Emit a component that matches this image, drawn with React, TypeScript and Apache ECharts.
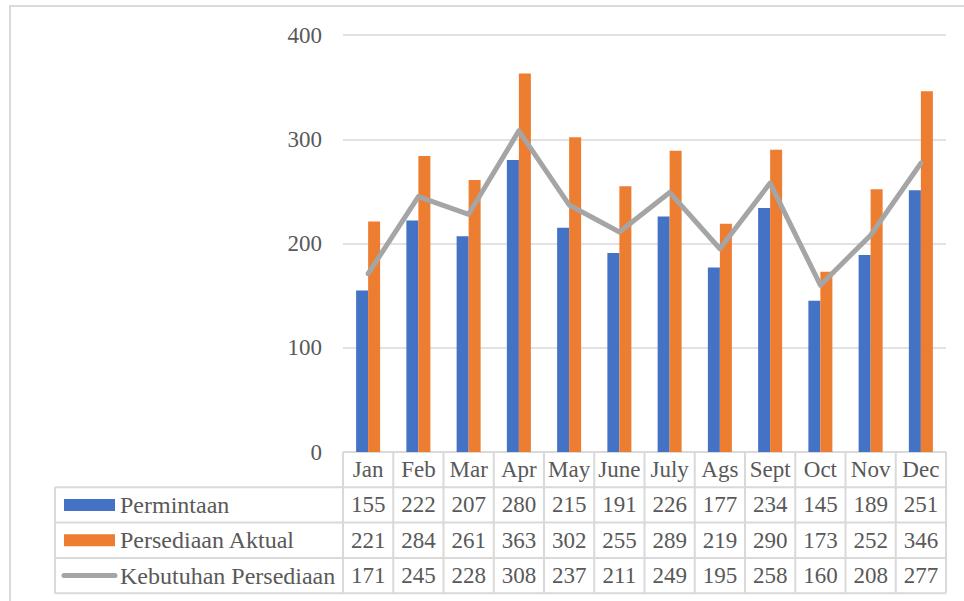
import React, { useEffect, useRef } from "react";
import * as echarts from "echarts";

const months = ["Jan", "Feb", "Mar", "Apr", "May", "June", "July", "Ags", "Sept", "Oct", "Nov", "Dec"];
const permintaan = [155, 222, 207, 280, 215, 191, 226, 177, 234, 145, 189, 251];
const persediaanAktual = [221, 284, 261, 363, 302, 255, 289, 219, 290, 173, 252, 346];
const kebutuhanPersediaan = [171, 245, 228, 308, 237, 211, 249, 195, 258, 160, 208, 277];
const seriesNames = ["Permintaan", "Persediaan Aktual", "Kebutuhan Persediaan"];

const FONT = "'Liberation Serif', 'Times New Roman', serif";
const FS = 23;
const FS_NAME = 24;
const TXT = "#595959";
const BORDER = "#d9d9d9";
const BLUE = "#4472c4";
const ORANGE = "#ed7d31";
const GRAY = "#a5a5a5";

const GRID_LEFT = 343;
const GRID_RIGHT_X = 946;
const GRID_TOP = 35;
const GRID_BOTTOM_Y = 452;
const TABLE_LEFT = 55;
const ROW_H = 35.3;

export default function App() {
  const ref = useRef<HTMLDivElement>(null);
  useEffect(() => {
    if (!ref.current) return;
    const chart = echarts.init(ref.current, null, { renderer: "svg" });
    chart.setOption({
      animation: false,
      grid: {
        left: GRID_LEFT,
        right: 964 - GRID_RIGHT_X,
        top: GRID_TOP,
        bottom: 601 - GRID_BOTTOM_Y,
        containLabel: false,
      },
      xAxis: {
        type: "category",
        data: months,
        axisLine: { show: false },
        axisTick: { show: false },
        axisLabel: {
          color: TXT,
          fontFamily: FONT,
          fontSize: FS,
          margin: 17,
          verticalAlign: "middle",
          lineHeight: FS,
          interval: 0,
        },
      },
      yAxis: {
        type: "value",
        min: 0,
        max: 400,
        interval: 100,
        axisLine: { show: false },
        axisTick: { show: false },
        axisLabel: { color: TXT, fontFamily: FONT, fontSize: FS, margin: 21 },
        splitLine: { lineStyle: { color: BORDER, width: 1.5 } },
      },
      series: [
        {
          name: seriesNames[0],
          type: "bar",
          data: permintaan,
          barWidth: 12,
          barGap: "0%",
          itemStyle: { color: BLUE },
        },
        {
          name: seriesNames[1],
          type: "bar",
          data: persediaanAktual,
          barWidth: 12,
          barGap: "0%",
          itemStyle: { color: ORANGE },
        },
        {
          name: seriesNames[2],
          type: "line",
          data: kebutuhanPersediaan,
          symbol: "none",
          lineStyle: { color: GRAY, width: 5, cap: "round", join: "round" },
          z: 5,
        },
      ],
    });

    const centers = months.map((_, i) => chart.convertToPixel({ xAxisIndex: 0 }, i) as number);
    const colW = (GRID_RIGHT_X - GRID_LEFT) / months.length;
    const headerTop = GRID_BOTTOM_Y;
    const rowsTop = headerTop + ROW_H;
    const tableBottom = rowsTop + ROW_H * 3;
    const elements: any[] = [];
    const lineStyle = { stroke: BORDER, lineWidth: 2 };

    elements.push({
      type: "rect",
      shape: { x: 10, y: 6, width: 980, height: 620 },
      style: { fill: null, stroke: BORDER, lineWidth: 2 },
      silent: true,
    });
    elements.push({ type: "line", shape: { x1: GRID_LEFT, y1: headerTop, x2: GRID_RIGHT_X, y2: headerTop }, style: lineStyle });
    for (let r = 0; r <= 3; r++) {
      const y = rowsTop + r * ROW_H;
      elements.push({ type: "line", shape: { x1: TABLE_LEFT, y1: y, x2: GRID_RIGHT_X, y2: y }, style: lineStyle });
    }
    elements.push({ type: "line", shape: { x1: TABLE_LEFT, y1: rowsTop, x2: TABLE_LEFT, y2: tableBottom }, style: lineStyle });
    for (let c = 0; c <= months.length; c++) {
      const x = GRID_LEFT + c * colW;
      elements.push({ type: "line", shape: { x1: x, y1: headerTop, x2: x, y2: tableBottom }, style: lineStyle });
    }
    const rows = [permintaan, persediaanAktual, kebutuhanPersediaan];
    rows.forEach((vals, r) => {
      const cy = rowsTop + r * ROW_H + ROW_H / 2;
      if (r < 2) {
        elements.push({
          type: "rect",
          shape: { x: 64, y: cy - 6, width: 51, height: 12 },
          style: { fill: r === 0 ? BLUE : ORANGE },
        });
      } else {
        elements.push({
          type: "line",
          shape: { x1: 64, y1: cy, x2: 115, y2: cy },
          style: { stroke: GRAY, lineWidth: 5, lineCap: "round" },
        });
      }
      elements.push({
        type: "text",
        x: 120,
        y: cy,
        style: { text: seriesNames[r], fill: TXT, fontFamily: FONT, fontSize: FS_NAME, align: "left", verticalAlign: "middle" },
      });
      vals.forEach((v, i) => {
        elements.push({
          type: "text",
          x: centers[i],
          y: cy,
          style: { text: String(v), fill: TXT, fontFamily: FONT, fontSize: FS, align: "center", verticalAlign: "middle" },
        });
      });
    });
    chart.setOption({ graphic: { elements } });

    return () => chart.dispose();
  }, []);
  return <div ref={ref} style={{ width: 964, height: 601, position: "absolute", left: 0, top: 0 }} />;
}
